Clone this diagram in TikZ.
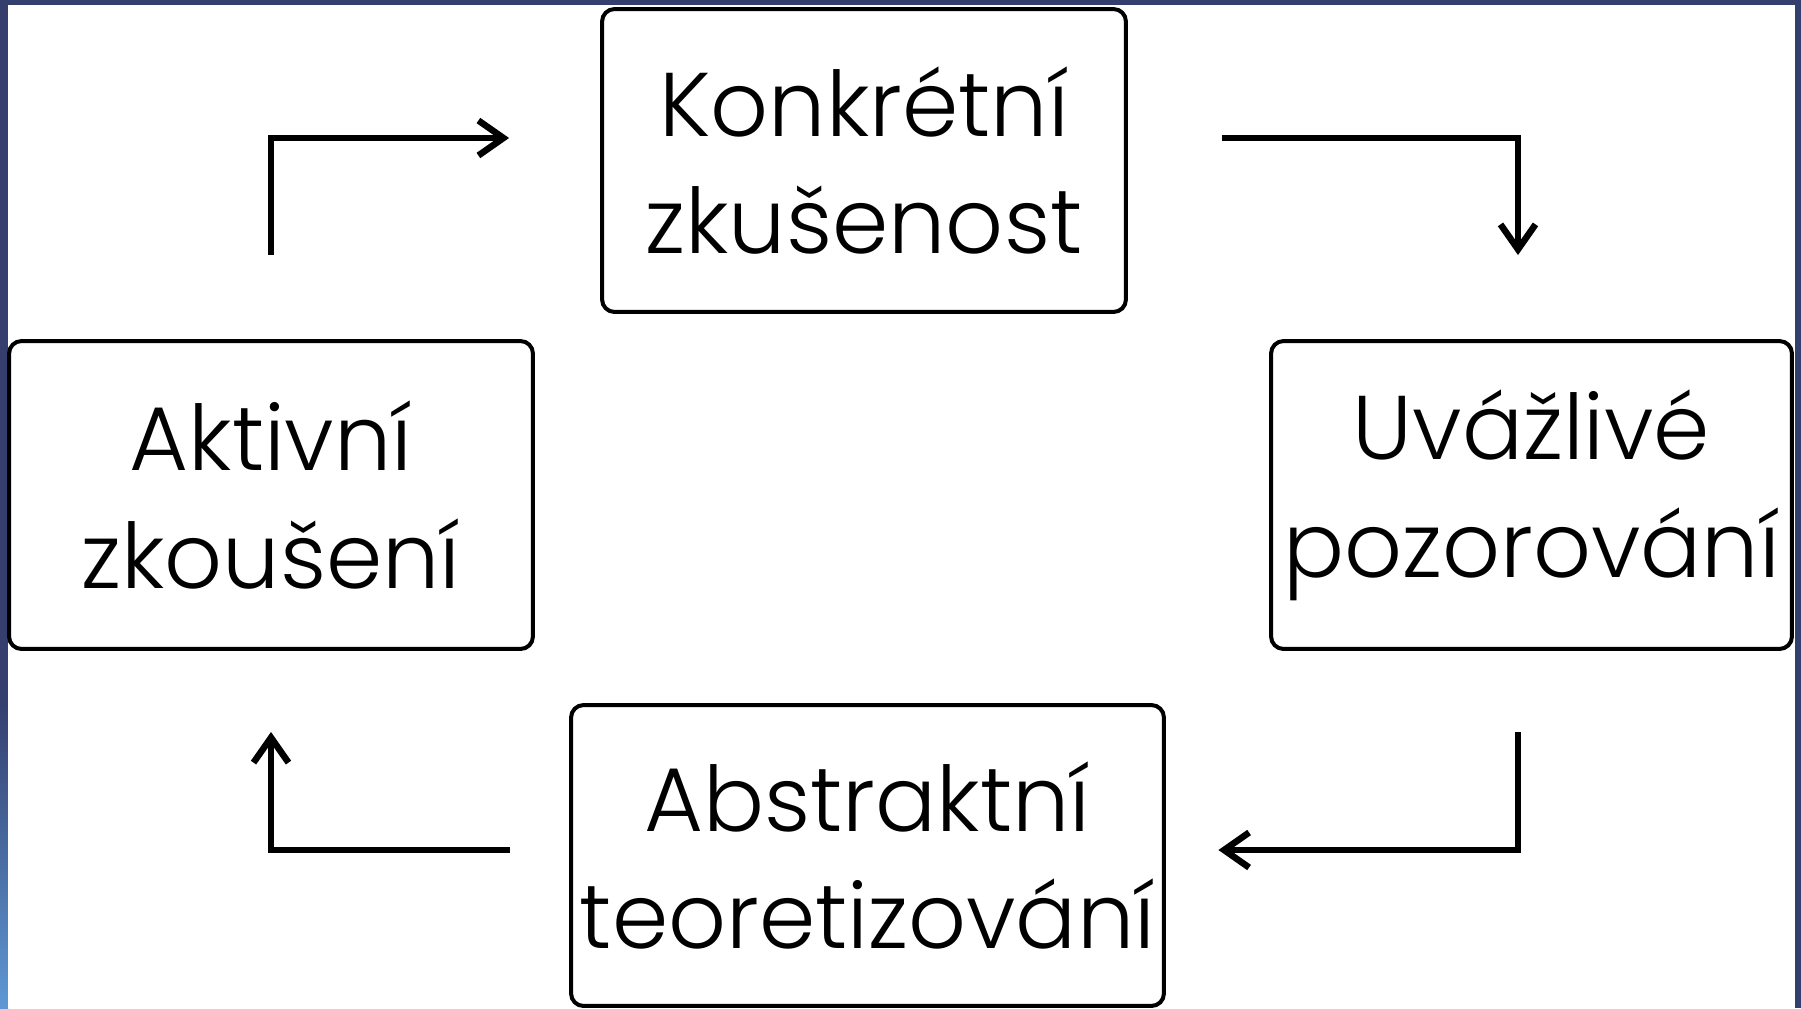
\documentclass[tikz,border=0pt]{standalone}
\usepackage{fontspec}
\setmainfont{Poppins}[UprightFont=* Light]
\usetikzlibrary{arrows.meta}
\definecolor{navy}{HTML}{343F6E}
\definecolor{skyblue}{HTML}{5E98D4}

\begin{document}
\begin{tikzpicture}[x=0.02cm,y=-0.02cm,
  stage/.style={draw=black, line width=0.08cm, rounded corners=0.25cm, fill=white, align=center, inner sep=0pt, font=\fontsize{51.5}{67}\selectfont},
  flow/.style={line width=0.13cm, -{Straight Barb[length=0.5cm,width=0.7cm]}}]
  \useasboundingbox (0,0) rectangle (1801,1008);
  \fill[navy] (0,0) rectangle (1801,1008);
  \shade[top color=navy, bottom color=skyblue] (0,700) rectangle (8,1008);
  \fill[white] (8,5) rectangle (1795,1008);

  \node[stage, minimum width=10.48cm, minimum height=6.06cm] (konkretni) at (864,160.5) {Konkrétní\\zkušenost};
  \node[stage, minimum width=10.42cm, minimum height=6.16cm] (uvazlive) at (1531.5,495) {Uvážlivé\\pozorování};
  \node[stage, minimum width=11.86cm, minimum height=6.02cm] (abstraktni) at (867.5,855.5) {Abstraktní\\teoretizování};
  \node[stage, minimum width=10.48cm, minimum height=6.16cm] (aktivni) at (271,495) {Aktivní\\zkoušení};

  \draw[flow, shorten <=1.88cm, shorten >=1.68cm] ([yshift=0.45cm]konkretni.east) -| ([xshift=-0.27cm]uvazlive.north);
  \draw[flow, shorten <=1.62cm, shorten >=1.05cm] ([xshift=-0.27cm]uvazlive.south) |- ([yshift=0.11cm]abstraktni.east);
  \draw[flow, shorten <=1.18cm, shorten >=1.62cm] ([yshift=0.11cm]abstraktni.west) -| (aktivni.south);
  \draw[flow, shorten <=1.68cm, shorten >=1.82cm] (aktivni.north) |- ([yshift=0.45cm]konkretni.west);
\end{tikzpicture}
\end{document}
